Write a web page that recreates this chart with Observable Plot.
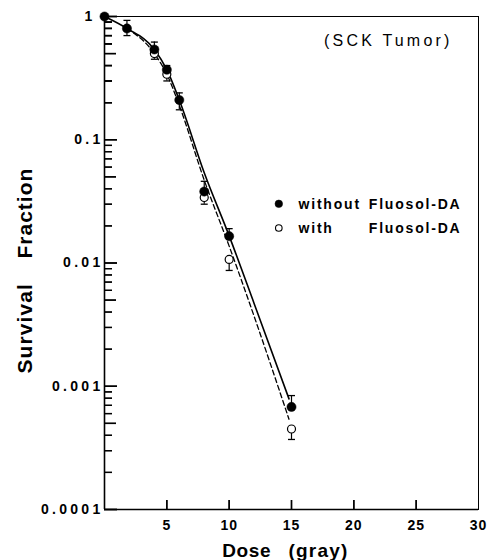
<!DOCTYPE html>
<html>
<head>
<meta charset="utf-8">
<script src="https://cdn.jsdelivr.net/npm/d3@7"></script>
<script src="https://cdn.jsdelivr.net/npm/@observablehq/plot@0.6"></script>
<style>
  body { margin: 0; background: #fff; }
  #chart svg { display: block; }
</style>
</head>
<body>
<div id="chart"></div>
<script>
// ---- data ----
const filledDose  = [0, 1.8, 4, 5, 6, 8, 10, 15];
const filledSF    = [1, 0.80, 0.54, 0.37, 0.21, 0.038, 0.0165, 0.00068];
const filledUpper = [null, 0.93, 0.62, 0.40, 0.24, 0.046, 0.019, 0.00084];
const filledLower = [null, 0.70, null, null, 0.175, null, null, null];

const openDose  = [4, 5, 8, 10, 15];
const openSF    = [0.50, 0.34, 0.034, 0.0107, 0.00045];
const openLower = [0.45, 0.30, 0.030, 0.0087, 0.00037];

const solidDose = [0, 1.8, 4, 5, 6, 8, 10, 12, 14.8];
const solidSF   = [1, 0.80, 0.54, 0.37, 0.21, 0.054, 0.0166, 0.0047, 0.00079];
const dashedDose = [1.8, 4, 5, 6, 8, 10, 12, 14.8];
const dashedSF   = [0.80, 0.50, 0.34, 0.19, 0.047, 0.0137, 0.0037, 0.00054];

const xTicks = [5, 10, 15, 20, 25, 30];
const yTicks = [1, 0.1, 0.01, 0.001, 0.0001];
const yDecades = [0.0001, 0.001, 0.01, 0.1];
const minorMult = [2, 3, 4, 6, 7, 8, 9];
const fiveMult = [5];

const titleX = ["Dose", "(gray)"];
const titleY = ["Survival", "Fraction"];
const annotation = "(SCK Tumor)";
const legendLabels = ["without", "with"];
const legendSuffix = "Fluosol-DA";

// ---- tables built from arrays ----
const filled = filledDose.map((d, i) => ({dose: d, sf: filledSF[i]}));
const open = openDose.map((d, i) => ({dose: d, sf: openSF[i]}));
const solid = solidDose.map((d, i) => ({dose: d, sf: solidSF[i]}));
const dashed = dashedDose.map((d, i) => ({dose: d, sf: dashedSF[i]}));
const bars = [];
filledDose.forEach((d, i) => {
  if (filledUpper[i] != null) bars.push({dose: d, from: filledSF[i], to: filledUpper[i]});
  if (filledLower[i] != null) bars.push({dose: d, from: filledSF[i], to: filledLower[i]});
});
openDose.forEach((d, i) => {
  if (openLower[i] != null) bars.push({dose: d, from: openSF[i], to: openLower[i]});
});
const minorTicks = [...yDecades.flatMap(b => minorMult.map(m => b * m)), ...minorMult.map(m => m / 10)];
const fiveTicks = yDecades.flatMap(b => fiveMult.map(m => b * m));

const capSymbol = {draw(c, s) { const w = Math.sqrt(s / Math.PI); c.moveTo(-w, 0); c.lineTo(w, 0); }};

const W = 493, H = 560, ML = 104, MR = 15, MT = 16, MB = 51;
const font = "Liberation Sans, Arial, Helvetica, sans-serif";
const T = (extra) => Object.assign({text: d => d, frameAnchor: "top-left", textAnchor: "start", lineAnchor: "bottom"}, extra);
const noLabel = () => "";

const chart = Plot.plot({
  width: W,
  height: H,
  marginLeft: ML,
  marginRight: MR,
  marginTop: MT,
  marginBottom: MB,
  style: {fontFamily: font, background: "white", color: "black"},
  x: {domain: [0, 30]},
  y: {type: "log", domain: [0.0001, 1]},
  marks: [
    Plot.frame({stroke: "black", strokeWidth: 1}),
    // tick labels
    Plot.axisY(yTicks, {
      tickSize: 0, tickPadding: 1, fontSize: 14, fontWeight: "bold",
      tickFormat: d => String(d), label: null
    }),
    Plot.axisX(xTicks, {
      tickSize: 0, tickPadding: 11, fontSize: 14, fontWeight: "bold", label: null
    }),
    // curves
    Plot.line(dashed, {x: "dose", y: "sf", stroke: "black", strokeWidth: 1.3, strokeDasharray: "5,3", curve: "monotone-x"}),
    Plot.line(solid, {x: "dose", y: "sf", stroke: "black", strokeWidth: 1.6, curve: "monotone-x"}),
    // error bars
    Plot.ruleX(bars, {x: "dose", y1: "from", y2: "to", stroke: "black", strokeWidth: 1.2}),
    Plot.dot(bars, {x: "dose", y: "to", symbol: capSymbol, r: 3.5, stroke: "black", strokeWidth: 1.3, fill: "none"}),
    // points
    Plot.dot(open, {x: "dose", y: "sf", r: 4, fill: "white", stroke: "black", strokeWidth: 1.2}),
    Plot.dot(filled, {x: "dose", y: "sf", r: 4.6, fill: "black", stroke: "black", strokeWidth: 0.5}),
    // annotation
    Plot.text([annotation], T({dx: 219.5, dy: 29, fontSize: 16})),
    // legend
    Plot.dot([0], {frameAnchor: "top-left", dx: 174.3, dy: 187.3, r: 3.8, fill: "black", stroke: "black", strokeWidth: 0.5}),
    Plot.dot([0], {frameAnchor: "top-left", dx: 174.3, dy: 211.5, r: 3.3, fill: "white", stroke: "black", strokeWidth: 1.1}),
    Plot.text([legendLabels[0]], T({dx: 194, dy: 192.3, fontSize: 14, fontWeight: "bold"})),
    Plot.text([legendLabels[1]], T({dx: 194, dy: 216.5, fontSize: 14, fontWeight: "bold"})),
    Plot.text([legendSuffix], T({dx: 264.3, dy: 192.3, fontSize: 14, fontWeight: "bold"})),
    Plot.text([legendSuffix], T({dx: 264.3, dy: 216.5, fontSize: 14, fontWeight: "bold"})),
    // axis titles
    Plot.text([titleX[0]], T({dx: 221.7 - ML, dy: 556.5 - MT, fontSize: 19, fontWeight: "bold"})),
    Plot.text([titleX[1]], T({dx: 288 - ML, dy: 556.5 - MT, fontSize: 19, fontWeight: "bold"})),
    Plot.text([titleY[0]], T({dx: 31.5 - ML, dy: 373 - MT, rotate: -90, fontSize: 21, fontWeight: "bold"})),
    Plot.text([titleY[1]], T({dx: 31.5 - ML, dy: 258 - MT, rotate: -90, fontSize: 21, fontWeight: "bold"})),
    // axis lines
    Plot.ruleX([0], {stroke: "black", strokeWidth: 1.6}),
    Plot.ruleY([0.0001], {stroke: "black", strokeWidth: 1.6}),
    // inward ticks drawn by Plot axes shifted into the frame
    Plot.axisY(yTicks, {tickSize: 13, dx: 13, tickFormat: noLabel, strokeWidth: 1.5, label: null}),
    Plot.axisY(fiveTicks, {tickSize: 12, dx: 12, tickFormat: noLabel, strokeWidth: 1.4, label: null}),
    Plot.axisY(minorTicks, {tickSize: 8, dx: 8, tickFormat: noLabel, strokeWidth: 1.3, label: null}),
    Plot.axisX(xTicks.filter(d => d < 30), {tickSize: 9, dy: -9, tickFormat: noLabel, strokeWidth: 1.4, label: null})
  ]
});

// remove the empty label texts of the tick-only axes
d3.select(chart).selectAll("text").filter(function() { return this.textContent === ""; }).remove();

// inward tick marks also placed with Plot's own scales (same positions)
const xs = chart.scale("x"), ys = chart.scale("y");
const x0 = xs.apply(0), yBottom = ys.apply(0.0001);
const tg = d3.select(chart).append("g").attr("aria-label", "inward ticks").attr("stroke", "black").attr("fill", "none");
const addY = (vals, len, sw) => vals.forEach(v => {
  const y = ys.apply(v) + 0.5;
  tg.append("line").attr("x1", x0).attr("x2", x0 + len).attr("y1", y).attr("y2", y).attr("stroke-width", sw);
});
addY(yTicks, 13, 1.5);
addY(fiveTicks, 12, 1.4);
addY(minorTicks, 8, 1.3);
xTicks.filter(v => v < 30).forEach(v => {
  const x = xs.apply(v) + 0.5;
  tg.append("line").attr("x1", x).attr("x2", x).attr("y1", yBottom).attr("y2", yBottom - 9).attr("stroke-width", 1.4);
});

// letter spacing applied by text content
const spacing = new Map([
  [annotation, "3.2px"],
  [legendLabels[0], "1.8px"], [legendLabels[1], "1.8px"], [legendSuffix, "1.8px"],
  [titleX[0], "0.6px"], [titleX[1], "1.2px"],
  [titleY[0], "1.1px"], [titleY[1], "1px"]
]);
const yLabelSet = new Set(yTicks.map(String));
const xLabelSet = new Set(xTicks.map(String));
d3.select(chart).selectAll("text").each(function() {
  const t = this.textContent;
  if (spacing.has(t)) this.style.letterSpacing = spacing.get(t);
  else if (yLabelSet.has(t)) {
    this.style.letterSpacing = "3.3px";
    if (t === "1") this.setAttribute("dx", "-8");
  }
  else if (xLabelSet.has(t)) this.style.letterSpacing = "1px";
});
document.getElementById("chart").appendChild(chart);
</script>
</body>
</html>
